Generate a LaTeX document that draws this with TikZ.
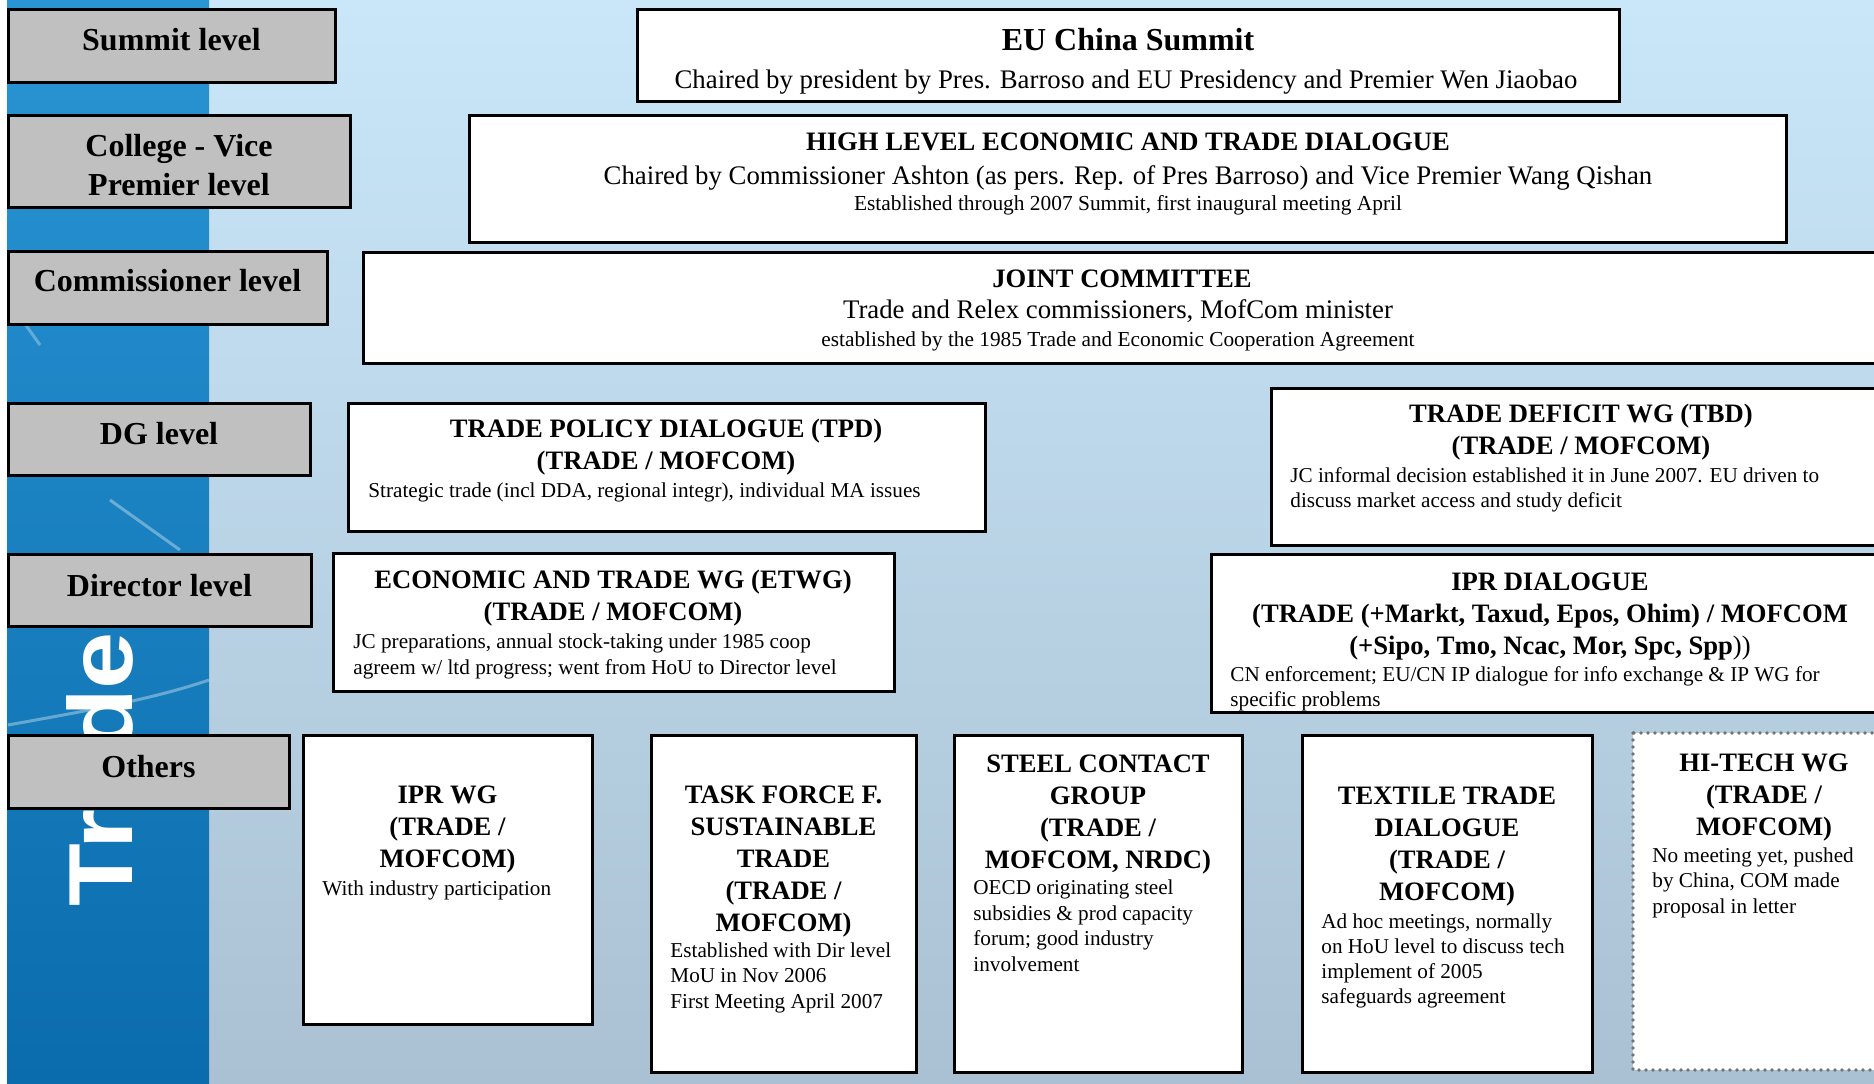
\documentclass[tikz,border=0pt]{standalone}
\usepackage{graphicx}
\usepackage{fontspec}
\setmainfont{Liberation Serif}
\newfontfamily\tradefont{Liberation Sans}
\definecolor{lvlgray}{HTML}{C0C0C0}
\definecolor{bgtop}{HTML}{C9E7F9}
\definecolor{bgbot}{HTML}{AAC1D3}
\definecolor{striptop}{HTML}{2A95D4}
\definecolor{stripbot}{HTML}{0A6CAD}
\begin{document}
\begin{tikzpicture}[x=0.5pt, y=-0.5pt,
        lvlbox/.style={draw=black, line width=1.5pt, fill=lvlgray},
        wbox/.style={draw=black, line width=1.5pt, fill=white},
        dotbox/.style={draw=gray!90!black, line width=1.8pt, line cap=round, dash pattern=on 0pt off 3.5pt, fill=white},
        lvltext/.style={anchor=base, inner sep=0pt, align=center, font=\fontsize{16}{19.5}\selectfont\bfseries},
        ttl/.style={anchor=base, inner sep=0pt, align=center, font=\fontsize{13.3}{16}\selectfont\bfseries},
        sub/.style={anchor=base, inner sep=0pt, font=\fontsize{13.4}{16}\selectfont},
        body/.style={anchor=base west, inner sep=0pt, align=left, font=\fontsize{10.6}{12.75}\selectfont}]
        \useasboundingbox (0,0) rectangle (1874,1083);
        \clip (0,0) rectangle (1874,1083);
        
        % Background and side strip
        \fill[white] (0,0) rectangle (1874,1083);
        \shade[top color=bgtop, bottom color=bgbot] (7,0) rectangle (1874,1083);
        \shade[top color=striptop, bottom color=stripbot] (7,0) rectangle (209,1083);
        \draw[white, opacity=0.35, line width=1.5pt] (8,725) .. controls (80,712) and (150,700) .. (209,680);
        \draw[white, opacity=0.35, line width=1.5pt] (110,500) -- (180,550);
        \draw[white, opacity=0.3, line width=1.5pt] (8,300) -- (40,345);
        \node[rotate=90, text=white, inner sep=0pt, font=\tradefont\fontsize{45.5}{46}\selectfont\bfseries] (tradeword) at (99.5,769) {\scalebox{1.13}[1]{Trade}};
        
        % Level labels (base = last line)
        \draw[lvlbox] (8,9) rectangle (335,82);
        \node[lvltext] (lsummit) at (171.5,50) {Summit level};
        \draw[lvlbox] (8,115) rectangle (350,207);
        \node[lvltext] (lcollege) at (179,195) {College - Vice\\Premier level};
        \draw[lvlbox] (8,251) rectangle (327,324);
        \node[lvltext] (lcomm) at (167.5,291) {Commissioner level};
        \draw[lvlbox] (8,403) rectangle (310,475);
        \node[lvltext] (ldg) at (159,444) {DG level};
        \draw[lvlbox] (8,554) rectangle (311,626);
        \node[lvltext] (ldir) at (159.5,596) {Director level};
        \draw[lvlbox] (8,735) rectangle (289,808);
        \node[lvltext] (lothers) at (148.5,777) {Others};
        
        % Summit
        \draw[wbox] (637,9) rectangle (1619,101);
        \node[sub, font=\fontsize{16}{19}\selectfont\bfseries] (summit) at (1128,50) {EU China Summit};
        \node[sub] (summitsub) at (1126,88) {Chaired by president by Pres. Barroso and EU Presidency and Premier Wen Jiaobao};
        
        % High level dialogue
        \draw[wbox] (469,115) rectangle (1786,242);
        \node[ttl] (hled) at (1128,150) {HIGH LEVEL ECONOMIC AND TRADE DIALOGUE};
        \node[sub] (hledsub) at (1128,184) {Chaired by Commissioner Ashton (as pers. Rep. of Pres Barroso) and Vice Premier Wang Qishan};
        \node[sub, font=\fontsize{10.7}{12}\selectfont] (hlednote) at (1128,210) {Established through 2007 Summit, first inaugural meeting April};
        
        % Joint committee
        \draw[wbox] (363,252) rectangle (1890,363);
        \node[ttl] (jc) at (1122,287) {JOINT COMMITTEE};
        \node[sub] (jcsub) at (1118,318) {Trade and Relex commissioners, MofCom minister};
        \node[sub, font=\fontsize{10.65}{12}\selectfont] (jcnote) at (1118,346) {established by the 1985 Trade and Economic Cooperation Agreement};
        
        % DG level
        \draw[wbox] (348,403) rectangle (985,531);
        \node[ttl] (tpd) at (666,469) {TRADE POLICY DIALOGUE (TPD)\\(TRADE / MOFCOM)};
        \node[body] (tpdbody) at (368,497) {Strategic trade (incl DDA, regional integr), individual MA issues};
        \draw[wbox] (1271,388) rectangle (1891,545);
        \node[ttl] (tbd) at (1581,454) {TRADE DEFICIT WG (TBD)\\(TRADE / MOFCOM)};
        \node[body, font=\fontsize{10.6}{12.5}\selectfont] (tbdbody) at (1290,507) {JC informal decision established it in June 2007. EU driven to\\discuss market access and study deficit};
        
        % Director level
        \draw[wbox] (333,553) rectangle (894,691);
        \node[ttl] (etwg) at (613,620) {ECONOMIC AND TRADE WG (ETWG)\\(TRADE / MOFCOM)};
        \node[body] (etwgbody) at (353,674) {JC preparations, annual stock-taking under 1985 coop\\agreem w/ ltd progress; went from HoU to Director level};
        \draw[wbox] (1211,554) rectangle (1889,712);
        \node[ttl] (iprd) at (1550,654) {IPR DIALOGUE\\(TRADE (+Markt, Taxud, Epos, Ohim) / MOFCOM\\(+Sipo, Tmo, Ncac, Mor, Spc, Spp{\mdseries))}};
        \node[body, font=\fontsize{10.6}{12.5}\selectfont] (iprdbody) at (1230,706) {CN enforcement; EU/CN IP dialogue for info exchange \& IP WG for\\specific problems};
        
        % Others
        \draw[wbox] (303,735) rectangle (592,1024);
        \node[ttl] (iprwg) at (447.5,867) {IPR WG\\(TRADE /\\MOFCOM)};
        \node[body] (iprwgbody) at (322,895) {With industry participation};
        \draw[wbox] (651,735) rectangle (916,1072);
        \node[ttl] (taskf) at (783.5,931) {TASK FORCE F.\\SUSTAINABLE\\TRADE\\(TRADE /\\MOFCOM)};
        \node[body] (taskfbody) at (670,1008) {Established with Dir level\\MoU in Nov 2006\\First Meeting April 2007};
        \draw[wbox] (954,735) rectangle (1242,1072);
        \node[ttl] (steel) at (1098,868) {STEEL CONTACT\\GROUP\\(TRADE /\\MOFCOM, NRDC)};
        \node[body] (steelbody) at (973,971) {OECD originating steel\\subsidies \& prod capacity\\forum; good industry\\involvement};
        \draw[wbox] (1302,735) rectangle (1592,1072);
        \node[ttl] (textile) at (1447,900) {TEXTILE TRADE\\DIALOGUE\\(TRADE /\\MOFCOM)};
        \node[body, font=\fontsize{10.6}{12.5}\selectfont] (textilebody) at (1321,1003) {Ad hoc meetings, normally\\on HoU level to discuss tech\\implement of 2005\\safeguards agreement};
        \draw[dotbox] (1633,733) rectangle (1895,1070);
        \node[ttl] (hitech) at (1764,835) {HI-TECH WG\\(TRADE /\\MOFCOM)};
        \node[body] (hitechbody) at (1652,913) {No meeting yet, pushed\\by China, COM made\\proposal in letter};
        
    \end{tikzpicture}
\end{document}
